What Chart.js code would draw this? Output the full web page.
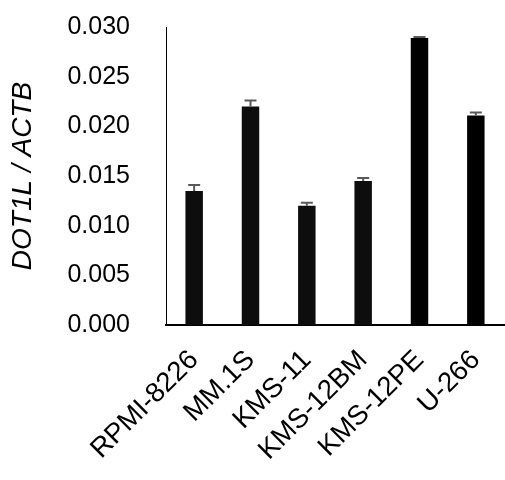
<!DOCTYPE html>
<html>
<head>
<meta charset="utf-8">
<script src="https://cdn.jsdelivr.net/npm/chart.js@4/dist/chart.umd.min.js"></script>
<style>
  body { margin: 0; background: #fff; }
  #wrap { width: 505px; height: 480px; }
</style>
</head>
<body>
<div id="wrap"><canvas id="chart" width="505" height="480"></canvas></div>
<script>
// values
const cellLines = ['RPMI-8226', 'MM.1S', 'KMS-11', 'KMS-12BM', 'KMS-12PE', 'U-266'];
const ratio = [0.0135, 0.0220, 0.0120, 0.0145, 0.0289, 0.0211];
const errUp = [0.0006, 0.0006, 0.0003, 0.0003, 0.0001, 0.0003];
const barColors = ['#0d0d0d', '#0d0d0d', '#0d0d0d', '#0d0d0d', '#000000', '#000000'];
const yTicks = [0, 0.005, 0.010, 0.015, 0.020, 0.025, 0.030];

const fontName = "'Liberation Sans', Arial, sans-serif";

// simple up-only error bars with a cap
const errorBars = {
	id: 'errorBars',
	afterDatasetsDraw(chart) {
		const ctx = chart.ctx;
		const meta = chart.getDatasetMeta(0);
		const yScale = chart.scales.y;
		ctx.save();
		ctx.strokeStyle = '#595959';
		ctx.lineWidth = 2;
		meta.data.forEach(function(bar, i) {
			const x = bar.x;
			const y0 = yScale.getPixelForValue(ratio[i]);
			const y1 = yScale.getPixelForValue(ratio[i] + errUp[i]);
			ctx.beginPath();
			ctx.moveTo(x, y0);
			ctx.lineTo(x, y1);
			ctx.moveTo(x - 6, y1);
			ctx.lineTo(x + 6, y1);
			ctx.stroke();
		});
		ctx.restore();
	}
};

const chart = new Chart(document.querySelector('#chart'), {
	type: 'bar',
	data: {
		labels: cellLines,
		datasets: [
			{
				data: ratio,
				backgroundColor: barColors,
				borderWidth: 0,
				barPercentage: 0.31,
				categoryPercentage: 1.0,
			},
		]
	},
	options: {
		responsive: false,
		animation: false,
		layout: {
			padding: { top: 27, left: 6, right: 1, bottom: 4 }
		},
		plugins: {
			legend: { display: false },
			tooltip: { enabled: false },
		},
		scales: {
			x: {
				grid: { display: false, drawTicks: false },
				border: { display: true, color: '#000', width: 2 },
				afterFit: function(scale) {
					scale.height = 151;
					scale.paddingLeft = 0;
					scale.paddingRight = 0;
				},
				ticks: {
					color: '#000',
					font: { family: fontName, size: 27.5 },
					minRotation: 45,
					maxRotation: 45,
					autoSkip: false,
					padding: 19,
				}
			},
			y: {
				min: 0,
				max: 0.03,
				afterBuildTicks: function(scale) {
					scale.ticks = yTicks.map(function(v) { return { value: v }; });
				},
				afterFit: function(scale) {
					scale.width = 160;
					scale.paddingTop = 0;
					scale.paddingBottom = 0;
				},
				grid: { display: false, drawTicks: false },
				border: { display: true, color: '#000', width: 1 },
				ticks: {
					color: '#000',
					font: { family: fontName, size: 25 },
					padding: 36,
					callback: function(v) { return Number(v).toFixed(3); }
				},
				title: {
					display: true,
					text: 'DOT1L / ACTB',
					color: '#000',
					font: { family: fontName, size: 28, style: 'italic' },
					padding: { top: 0, bottom: 28 }
				}
			}
		}
	},
	plugins: [errorBars]
});
</script>
</body>
</html>
